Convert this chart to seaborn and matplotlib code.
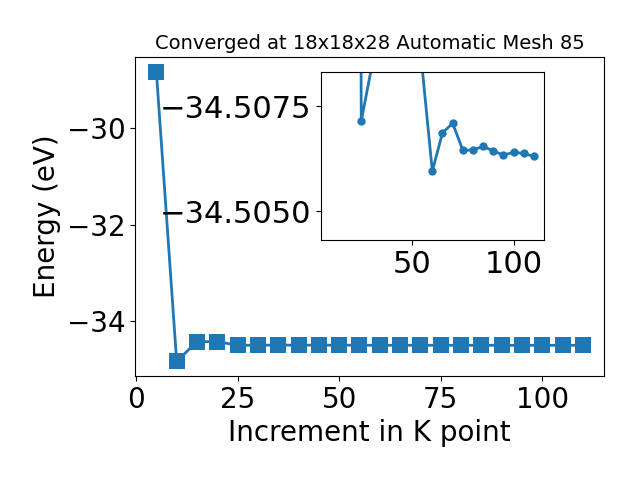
import numpy as np
import pandas as pd
import matplotlib
matplotlib.use("Agg")
import matplotlib.pyplot as plt
import seaborn as sns

# K-point increment vs total energy (eV)
kpoints = [5, 10, 15, 20, 25, 30, 35, 40, 45, 50, 55,
           60, 65, 70, 75, 80, 85, 90, 95, 100, 105, 110]
energy = [-28.82, -34.84, -34.43, -34.43, -34.50536, -34.50410, -34.5031,
          -34.5027, -34.5035, -34.5033, -34.50410, -34.50655, -34.50564,
          -34.50541, -34.50605, -34.50605, -34.50596, -34.50607, -34.50617,
          -34.50610, -34.50613, -34.50620]

# zoomed inset: ticks and their labels as shown on the figure
inset_ytick_pos = [-34.5050, -34.5075]
inset_ytick_lab = ['\u221234.5075', '\u221234.5050']
inset_xticks = [50, 100]

df = pd.DataFrame({'k': kpoints, 'E': energy})
blue = '#1f77b4'

fig = plt.figure(figsize=(6.4, 4.8), dpi=100)
ax = fig.add_axes([0.211, 0.217, 0.733, 0.664])

sns.lineplot(data=df, x='k', y='E', ax=ax, color=blue, marker='s',
             markersize=11, markeredgecolor=blue, markeredgewidth=0,
             linewidth=2)
ax.set_xlabel('Increment in K point', fontsize=20)
ax.set_ylabel('Energy (eV)', fontsize=20)
ax.set_title('Converged at 18x18x28 Automatic Mesh 85', fontsize=14)
ax.tick_params(labelsize=20)
ax.set_xticks([0, 25, 50, 75, 100])
ax.set_yticks([-34, -32, -30])

# inset (starts at 20 so the 10 -> 15 jump is left out)
ins = fig.add_axes([0.501, 0.5, 0.349, 0.35])
sns.lineplot(data=df[df['k'] >= 20], x='k', y='E', ax=ins, color=blue,
             marker='o', markersize=6, markeredgecolor=blue,
             markeredgewidth=0, linewidth=2)
ins.set_xlim(5, 115)
ins.set_ylim(-34.50819, -34.50419)
ins.set_xticks(inset_xticks)
ins.set_yticks(inset_ytick_pos, labels=inset_ytick_lab)
ins.tick_params(labelsize=22)
ins.set_xlabel('')
ins.set_ylabel('')

fig.savefig('out.png', dpi=100)
